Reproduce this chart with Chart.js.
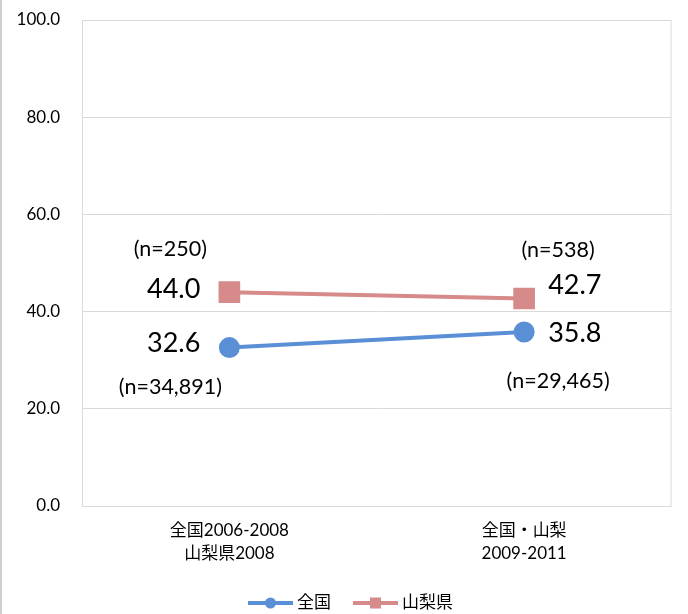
<!DOCTYPE html>
<html>
<head>
<meta charset="utf-8">
<script src="https://cdn.jsdelivr.net/npm/chart.js@4/dist/chart.umd.min.js"></script>
<style>
html,body{margin:0;padding:0;background:#fff;}
#wrap{width:688px;height:614px;position:relative;}
</style>
</head>
<body>
<div id="wrap"><canvas id="c" width="688" height="614"></canvas></div>
<script>
const categories = [['全国2006-2008','山梨県2008'], ['全国・山梨','2009-2011']];
const seriesNames = ['全国', '山梨県'];
const national = [32.6, 35.8];
const yamanashi = [44.0, 42.7];
const nationalN = ['(n=34,891)', '(n=29,465)'];
const yamanashiN = ['(n=250)', '(n=538)'];
const yTickValues = [0, 20, 40, 60, 80, 100];

const FONT = "Lato, 'Noto Sans CJK JP', sans-serif";
const BLUE = '#5A8FD6';
const PINK = '#D68A8A';

const annot = {
  id: 'annot',
  afterDatasetsDraw(chart) {
    const ctx = chart.ctx;
    const xs = chart.scales.x, ys = chart.scales.y;
    ctx.save();
    ctx.fillStyle = '#000';
    ctx.textBaseline = 'middle';
    const cfg = [
      {vals: national, ns: nationalN, vOff: [[-29,-4,'right'],[24,1,'left']], nOff: [[-59,39],[34,49]]},
      {vals: yamanashi, ns: yamanashiN, vOff: [[-29,-3,'right'],[24,-13,'left']], nOff: [[-59,-43],[34,-48]]}
    ];
    cfg.forEach(s => {
      s.vals.forEach((v, i) => {
        const px = xs.getPixelForValue(i), py = ys.getPixelForValue(v);
        ctx.font = '27px ' + FONT;
        ctx.textAlign = s.vOff[i][2];
        ctx.fillText(v.toFixed(1), px + s.vOff[i][0], py + s.vOff[i][1]);
        ctx.font = '21.5px ' + FONT;
        ctx.textAlign = 'center';
        ctx.fillText(s.ns[i], px + s.nOff[i][0], py + s.nOff[i][1]);
      });
    });
    ctx.restore();
  },
  afterDraw(chart) {
    const ctx = chart.ctx;
    ctx.save();
    ctx.strokeStyle = '#BFBFBF';
    ctx.lineWidth = 1.5;
    ctx.beginPath(); ctx.moveTo(1, 0); ctx.lineTo(1, 614); ctx.stroke();
    const items = [
      {x: 248, color: BLUE, style: 'circle', text: seriesNames[0]},
      {x: 353, color: PINK, style: 'rect', text: seriesNames[1]}
    ];
    const y = 603;
    items.forEach(it => {
      ctx.strokeStyle = it.color; ctx.lineWidth = 4; ctx.lineCap = 'butt';
      ctx.beginPath(); ctx.moveTo(it.x, y); ctx.lineTo(it.x + 45, y); ctx.stroke();
      ctx.fillStyle = it.color;
      if (it.style === 'circle') { ctx.beginPath(); ctx.arc(it.x + 22.5, y, 5.5, 0, Math.PI*2); ctx.fill(); }
      else { ctx.fillRect(it.x + 17, y - 5.5, 11, 11); }
      ctx.fillStyle = '#000'; ctx.font = '17px ' + FONT; ctx.textAlign = 'left'; ctx.textBaseline = 'middle';
      ctx.fillText(it.text, it.x + 49, y);
    });
    ctx.restore();
  }
};

new Chart(document.getElementById('c'), {
  type: 'line',
  data: {
    labels: categories,
    datasets: [
      {label: seriesNames[0], data: national, borderColor: BLUE, backgroundColor: BLUE, borderWidth: 4,
       pointStyle: 'circle', pointRadius: 8.5, pointHoverRadius: 8.5},
      {label: seriesNames[1], data: yamanashi, borderColor: PINK, backgroundColor: PINK, borderWidth: 4,
       pointStyle: 'rect', pointRadius: 12.5, pointHoverRadius: 12.5}
    ]
  },
  options: {
    responsive: false,
    animation: false,
    devicePixelRatio: 1,
    layout: {padding: {top: 20, right: 9, left: 0, bottom: 0}},
    plugins: {legend: {display: false}, tooltip: {enabled: false}},
    scales: {
      x: {
        offset: true,
        grid: {display: false, drawTicks: false},
        border: {display: true, color: '#D9D9D9', width: 1},
        ticks: {color: '#000', font: {family: FONT, size: 17, lineHeight: 1.35}, padding: 13, maxRotation: 0},
        afterFit(s) { s.height = 108; s.paddingLeft = 0; s.paddingRight = 0; }
      },
      y: {
        min: 0, max: 100,
        afterBuildTicks(s) { s.ticks = yTickValues.map(v => ({value: v})); },
        grid: {color: '#D9D9D9', lineWidth: 1, drawTicks: false},
        border: {display: true, color: '#D9D9D9', width: 1},
        ticks: {color: '#000', font: {family: FONT, size: 17}, padding: 22, callback: v => Number(v).toFixed(1)},
        afterFit(s) { s.width = 82; s.paddingTop = 0; s.paddingBottom = 0; }
      }
    }
  },
  plugins: [annot, {
    id: 'frame',
    beforeDatasetsDraw(chart) {
      const a = chart.chartArea, ctx = chart.ctx;
      ctx.save(); ctx.strokeStyle = '#D9D9D9'; ctx.lineWidth = 1;
      ctx.strokeRect(a.left + 0.5, a.top + 0.5, a.right - a.left - 1, a.bottom - a.top);
      ctx.restore();
    }
  }]
});
</script>
</body>
</html>
